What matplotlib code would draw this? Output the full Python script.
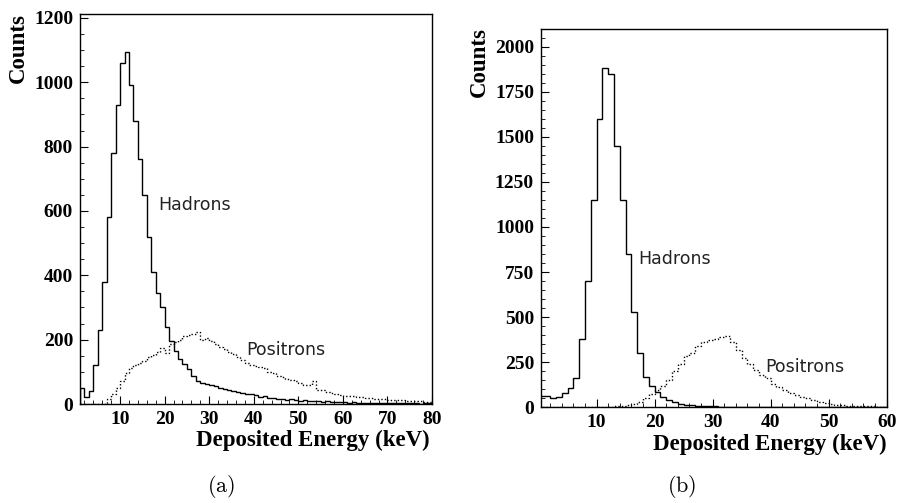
import numpy as np
import matplotlib
matplotlib.use("Agg")
import matplotlib.pyplot as plt
from matplotlib.ticker import MultipleLocator

plt.rcParams['mathtext.fontset'] = 'cm'

# ---------------- Panel (a) data: 1 keV bins from 1 to 80 keV ----------------
edges_a = np.arange(1, 81)
hadrons_a = [50, 23, 40, 120, 230, 380, 580, 780, 930, 1060,
             1095, 990, 880, 760, 650, 520, 410, 345, 300, 240,
             195, 165, 140, 125, 110, 88, 72, 65, 62, 58,
             55, 50, 48, 45, 40, 38, 35, 30, 32, 28,
             22, 26, 20, 18, 17, 15, 14, 16, 12, 10,
             11, 9, 8, 9, 7, 8, 6, 7, 5, 5,
             4, 5, 4, 3, 4, 3, 3, 4, 2, 3,
             2, 3, 2, 2, 3, 2, 1, 2, 2]
positrons_a = [0, 0, 0, 0, 0, 0, 15, 30, 50, 70,
               95, 112, 120, 127, 135, 145, 152, 162, 173, 160,
               185, 194, 200, 210, 214, 218, 225, 200, 205, 196,
               185, 178, 170, 163, 155, 145, 138, 128, 121, 118,
               115, 111, 100, 95, 88, 85, 78, 74, 70, 64,
               60, 58, 70, 45, 42, 38, 33, 30, 28, 26,
               25, 24, 22, 21, 20, 18, 17, 16, 15, 14,
               13, 12, 11, 10, 9, 8, 8, 7, 6]

# ---------------- Panel (b) data: 1 keV bins from 0 to 60 keV ----------------
edges_b = np.arange(0, 61)
hadrons_b = [60, 60, 50, 58, 80, 105, 160, 380, 700, 1150,
             1600, 1880, 1850, 1450, 1150, 850, 530, 300, 170, 120,
             85, 58, 38, 28, 20, 15, 12, 9, 7, 6,
             5, 4, 4, 3, 3, 2, 2, 2, 1, 1,
             1, 0, 0, 0, 0, 0, 0, 0, 0, 0,
             0, 0, 0, 0, 0, 0, 0, 0, 0, 0]
positrons_b = [0, 0, 0, 0, 0, 0, 0, 0, 0, 0,
               0, 2, 3, 5, 8, 12, 20, 30, 50, 75,
               95, 120, 150, 200, 240, 285, 300, 340, 360, 372,
               380, 390, 395, 360, 320, 275, 240, 205, 180, 160,
               130, 110, 95, 80, 68, 57, 50, 40, 32, 25,
               20, 15, 10, 8, 7, 6, 5, 5, 4, 4]

xticks_a = [10, 20, 30, 40, 50, 60, 70, 80]
yticks_a = [0, 200, 400, 600, 800, 1000, 1200]
xticks_b = [10, 20, 30, 40, 50, 60]
yticks_b = [0, 250, 500, 750, 1000, 1250, 1500, 1750, 2000]

serif_b = dict(family='Liberation Serif', weight='bold')

fig = plt.figure(figsize=(9, 5.03), dpi=100)
ax_a = fig.add_axes([0.0889, 0.1968, 0.3911, 0.7753])
ax_b = fig.add_axes([0.6011, 0.1903, 0.3841, 0.7515])


def style(ax, xlim, ylim, xt, yt, xminor, yminor):
    ax.set_xlim(*xlim)
    ax.set_ylim(*ylim)
    ax.set_xticks(xt)
    ax.set_yticks(yt)
    ax.xaxis.set_minor_locator(MultipleLocator(xminor))
    ax.yaxis.set_minor_locator(MultipleLocator(yminor))
    ax.tick_params(which='major', direction='in', length=6, width=0.8,
                   top=False, right=False, labelsize=14, pad=5)
    ax.tick_params(which='minor', direction='in', length=3, width=0.6,
                   top=False, right=False)
    for lab in ax.get_xticklabels() + ax.get_yticklabels():
        lab.set_fontfamily('Liberation Serif')
        lab.set_fontweight('bold')
    for s in ax.spines.values():
        s.set_linewidth(1.0)
        s.set_color('black')


# Panel (a)
ax_a.stairs(hadrons_a, edges_a, color='black', lw=1.0)
ax_a.stairs(positrons_a, edges_a, color='black', lw=1.0, linestyle=(0, (1, 1.5)))
style(ax_a, (1, 80), (0, 1212), xticks_a, yticks_a, 2, 50)
ax_a.text(18.5, 619, 'Hadrons', fontsize=12.5, color='#222222',
          family='DejaVu Sans', va='center', ha='left')
ax_a.text(38.4, 168, 'Positrons', fontsize=12.5, color='#222222',
          family='DejaVu Sans', va='center', ha='left')

# Panel (b)
ax_b.stairs(hadrons_b, edges_b, color='black', lw=1.0)
ax_b.stairs(positrons_b, edges_b, color='black', lw=1.0, linestyle=(0, (1, 1.5)))
style(ax_b, (0.4, 60), (0, 2096), xticks_b, yticks_b, 2, 50)
ax_b.text(17.1, 821, 'Hadrons', fontsize=12.5, color='#222222',
          family='DejaVu Sans', va='center', ha='left')
ax_b.text(39.0, 222, 'Positrons', fontsize=12.5, color='#222222',
          family='DejaVu Sans', va='center', ha='left')

# Axis labels (placed in figure coordinates)
fig.text(430 / 900, 1 - 440 / 503, 'Deposited Energy (keV)', fontsize=16.5,
         ha='right', va='center', **serif_b)
fig.text(886.7 / 900, 1 - 444 / 503, 'Deposited Energy (keV)', fontsize=16.5,
         ha='right', va='center', **serif_b)
fig.text(18.5 / 900, 1 - 13 / 503, 'Counts', fontsize=16.5, rotation=90,
         ha='center', va='top', **serif_b)
fig.text(479 / 900, 1 - 26.7 / 503, 'Counts', fontsize=16.5, rotation=90,
         ha='center', va='top', **serif_b)

# Sub-captions
fig.text(221 / 900, 1 - 486 / 503, r'$\mathrm{(a)}$', fontsize=16,
         ha='center', va='center')
fig.text(681.7 / 900, 1 - 486 / 503, r'$\mathrm{(b)}$', fontsize=16,
         ha='center', va='center')

fig.savefig('out.png', dpi=100)
